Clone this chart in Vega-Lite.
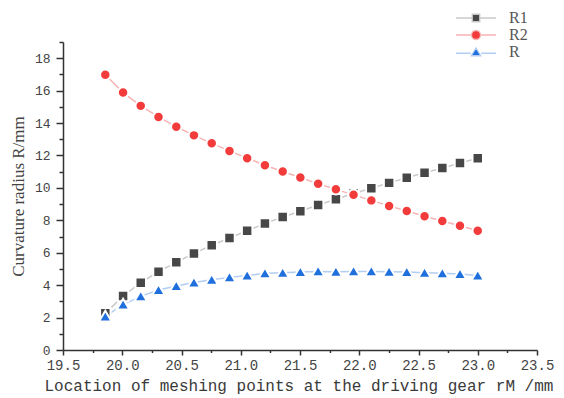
{
  "$schema": "https://vega.github.io/schema/vega-lite/v6.json",
  "width": 474,
  "height": 308,
  "autosize": {"type": "none"},
  "padding": {"left": 63, "top": 42, "right": 27, "bottom": 48},
  "background": "white",
  "config": {"view": {"stroke": null}},
  "data": {"values": [
    {"x": 19.857, "s": "R1", "v": 2.26}, {"x": 20.007, "s": "R1", "v": 3.33}, {"x": 20.156, "s": "R1", "v": 4.15}, {"x": 20.306, "s": "R1", "v": 4.83},
    {"x": 20.456, "s": "R1", "v": 5.41}, {"x": 20.605, "s": "R1", "v": 5.96}, {"x": 20.755, "s": "R1", "v": 6.46}, {"x": 20.905, "s": "R1", "v": 6.91},
    {"x": 21.054, "s": "R1", "v": 7.36}, {"x": 21.204, "s": "R1", "v": 7.80}, {"x": 21.354, "s": "R1", "v": 8.21}, {"x": 21.503, "s": "R1", "v": 8.56},
    {"x": 21.653, "s": "R1", "v": 8.94}, {"x": 21.803, "s": "R1", "v": 9.30}, {"x": 21.952, "s": "R1", "v": 9.65}, {"x": 22.102, "s": "R1", "v": 9.98},
    {"x": 22.252, "s": "R1", "v": 10.31}, {"x": 22.401, "s": "R1", "v": 10.62}, {"x": 22.551, "s": "R1", "v": 10.94}, {"x": 22.701, "s": "R1", "v": 11.23},
    {"x": 22.850, "s": "R1", "v": 11.54}, {"x": 23.000, "s": "R1", "v": 11.83},
    {"x": 19.857, "s": "R2", "v": 16.98}, {"x": 20.007, "s": "R2", "v": 15.88}, {"x": 20.156, "s": "R2", "v": 15.06}, {"x": 20.306, "s": "R2", "v": 14.38},
    {"x": 20.456, "s": "R2", "v": 13.77}, {"x": 20.605, "s": "R2", "v": 13.24}, {"x": 20.755, "s": "R2", "v": 12.75}, {"x": 20.905, "s": "R2", "v": 12.28},
    {"x": 21.054, "s": "R2", "v": 11.83}, {"x": 21.204, "s": "R2", "v": 11.40}, {"x": 21.354, "s": "R2", "v": 11.01}, {"x": 21.503, "s": "R2", "v": 10.64},
    {"x": 21.653, "s": "R2", "v": 10.25}, {"x": 21.803, "s": "R2", "v": 9.91}, {"x": 21.952, "s": "R2", "v": 9.57}, {"x": 22.102, "s": "R2", "v": 9.23},
    {"x": 22.252, "s": "R2", "v": 8.89}, {"x": 22.401, "s": "R2", "v": 8.58}, {"x": 22.551, "s": "R2", "v": 8.25}, {"x": 22.701, "s": "R2", "v": 7.96},
    {"x": 22.850, "s": "R2", "v": 7.67}, {"x": 23.000, "s": "R2", "v": 7.36},
    {"x": 19.857, "s": "R", "v": 2.07}, {"x": 20.007, "s": "R", "v": 2.80}, {"x": 20.156, "s": "R", "v": 3.31}, {"x": 20.306, "s": "R", "v": 3.70},
    {"x": 20.456, "s": "R", "v": 3.95}, {"x": 20.605, "s": "R", "v": 4.17}, {"x": 20.755, "s": "R", "v": 4.34}, {"x": 20.905, "s": "R", "v": 4.48},
    {"x": 21.054, "s": "R", "v": 4.59}, {"x": 21.204, "s": "R", "v": 4.73}, {"x": 21.354, "s": "R", "v": 4.77}, {"x": 21.503, "s": "R", "v": 4.81},
    {"x": 21.653, "s": "R", "v": 4.85}, {"x": 21.803, "s": "R", "v": 4.83}, {"x": 21.952, "s": "R", "v": 4.85}, {"x": 22.102, "s": "R", "v": 4.85},
    {"x": 22.252, "s": "R", "v": 4.83}, {"x": 22.401, "s": "R", "v": 4.81}, {"x": 22.551, "s": "R", "v": 4.77}, {"x": 22.701, "s": "R", "v": 4.73},
    {"x": 22.850, "s": "R", "v": 4.69}, {"x": 23.000, "s": "R", "v": 4.60}
  ]},
  "encoding": {
    "x": {
      "field": "x", "type": "quantitative",
      "scale": {"domain": [19.5, 23.5], "nice": false, "zero": false},
      "axis": {
        "title": "Location of meshing points at the driving gear rM /mm",
        "titleFont": "Liberation Mono", "titleFontSize": 16, "titleFontWeight": "normal", "titleColor": "#3a3a3a",
        "titleAnchor": "start", "titleX": -19, "titlePadding": 5,
        "values": [19.5, 19.75, 20, 20.25, 20.5, 20.75, 21, 21.25, 21.5, 21.75, 22, 22.25, 22.5, 22.75, 23, 23.25, 23.5],
        "labelExpr": "abs(datum.value*2 - round(datum.value*2)) < 0.01 ? format(datum.value, '.1f') : ''",
        "labelFont": "Liberation Mono", "labelFontSize": 14, "labelColor": "#444",
        "labelOverlap": false, "labelFlush": false, "labelPadding": 3,
        "tickSize": {"condition": {"test": "abs(datum.value*2 - round(datum.value*2)) < 0.01", "value": 5}, "value": 2.5},
        "tickColor": "#333", "tickWidth": 1.5, "domainColor": "#333", "domainWidth": 1.5, "grid": false
      }
    },
    "y": {
      "field": "v", "type": "quantitative",
      "scale": {"domain": [0, 19], "nice": false},
      "axis": {
        "title": "Curvature radius  R/mm",
        "titleFont": "Liberation Serif", "titleFontSize": 17, "titleFontWeight": "normal", "titleColor": "#444",
        "titlePadding": 7,
        "values": [0, 1, 2, 3, 4, 5, 6, 7, 8, 9, 10, 11, 12, 13, 14, 15, 16, 17, 18, 19],
        "labelExpr": "datum.value % 2 == 0 ? datum.label : ''",
        "labelFont": "Liberation Mono", "labelFontSize": 13, "labelColor": "#444",
        "labelOverlap": false, "labelFlush": false, "labelPadding": 6,
        "tickSize": {"condition": {"test": "datum.value % 2 == 0", "value": 7}, "value": 4},
        "tickColor": "#333", "tickWidth": 1.5, "domainColor": "#333", "domainWidth": 1.5, "grid": false
      }
    }
  },
  "layer": [
    {
      "mark": {"type": "line", "strokeWidth": 1.5},
      "encoding": {
        "detail": {"field": "s", "type": "nominal"},
        "stroke": {"condition": [
          {"test": "datum.s == 'R1'", "value": "#c9c9c9"},
          {"test": "datum.s == 'R2'", "value": "#f6b4b4"}
        ], "value": "#b2cdf2"}
      }
    },
    {
      "mark": {"type": "point", "filled": true, "opacity": 1, "size": 110, "stroke": "white", "strokeWidth": 2, "strokeOpacity": 1},
      "encoding": {
        "fill": {"field": "s", "type": "nominal", "legend": null,
          "scale": {"domain": ["R1", "R2", "R"], "range": ["#474747", "#f23c3c", "#1f6fdd"]}},
        "shape": {"field": "s", "type": "nominal", "legend": null,
          "scale": {"domain": ["R1", "R2", "R"], "range": ["square", "circle", "M0,-1.1L1.2,0.95H-1.2Z"]}}
      }
    },
    {
      "mark": {"type": "point", "filled": true, "opacity": 0, "size": 100, "strokeWidth": 1.3},
      "encoding": {
        "fill": {"field": "s", "type": "nominal", "title": null,
          "scale": {"domain": ["R1", "R2", "R"], "range": ["#474747", "#f23c3c", "#1f6fdd"]},
          "legend": {"orient": "none", "legendX": 405, "legendY": -32, "padding": 0,
            "symbolSize": 100, "symbolOpacity": 1, "symbolStrokeWidth": 1.3, "rowPadding": 1, "labelOffset": 25,
            "labelFont": "Liberation Serif", "labelFontSize": 16, "labelColor": "#555"}},
        "stroke": {"field": "s", "type": "nominal", "title": null,
          "scale": {"domain": ["R1", "R2", "R"], "range": ["#c9c9c9", "#f6b4b4", "#b2cdf2"]},
          "legend": {"orient": "none", "legendX": 405, "legendY": -32, "padding": 0,
            "symbolSize": 100, "symbolOpacity": 1, "symbolStrokeWidth": 1.3, "rowPadding": 1, "labelOffset": 25,
            "labelFont": "Liberation Serif", "labelFontSize": 16, "labelColor": "#555"}},
        "shape": {"field": "s", "type": "nominal", "title": null,
          "scale": {"domain": ["R1", "R2", "R"], "range": [
            "M-4,0H-0.85M0.85,0H4M-0.75,-0.75H0.75V0.75H-0.75Z",
            "M-4,0H-1.05M1.05,0H4M-0.9,0A0.9,0.9 0 1,0 0.9,0A0.9,0.9 0 1,0 -0.9,0Z",
            "M-4,0.25H-1.05M1.05,0.25H4M0,-0.8L0.95,0.75H-0.95Z"]},
          "legend": {"orient": "none", "legendX": 405, "legendY": -32, "padding": 0,
            "symbolSize": 100, "symbolOpacity": 1, "symbolStrokeWidth": 1.3, "rowPadding": 1, "labelOffset": 25,
            "labelFont": "Liberation Serif", "labelFontSize": 16, "labelColor": "#555"}}
      }
    }
  ],
  "resolve": {"scale": {"fill": "independent", "shape": "independent", "stroke": "independent"}}
}
